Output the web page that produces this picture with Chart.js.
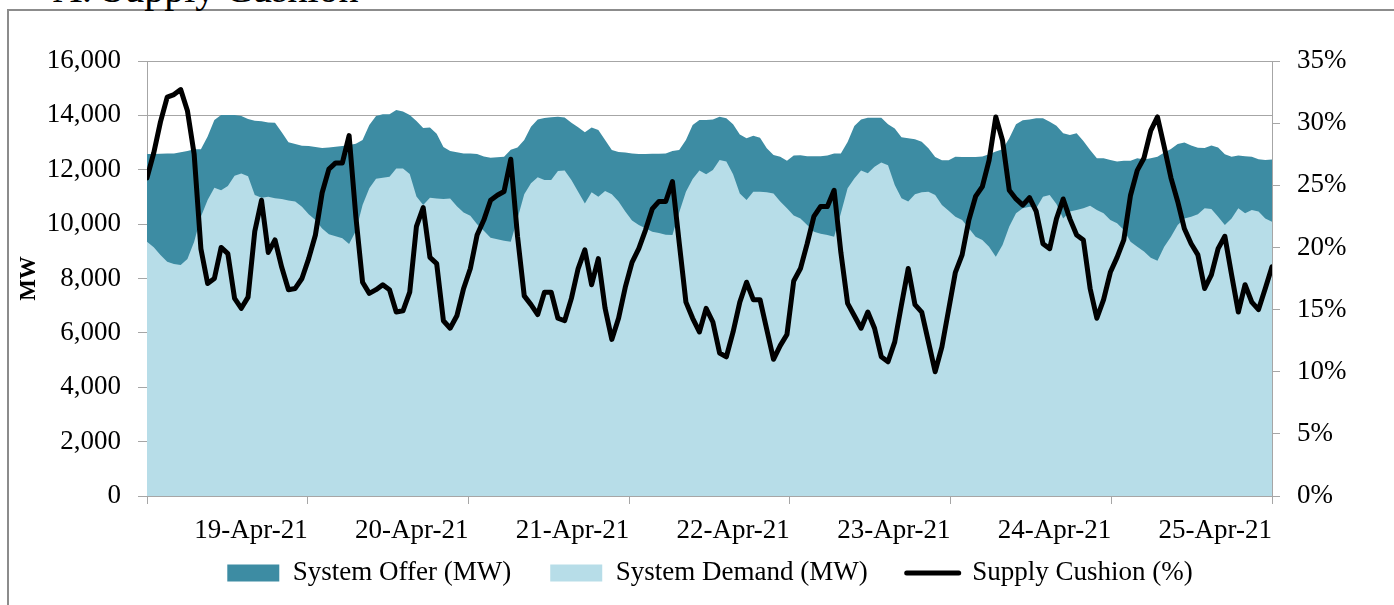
<!DOCTYPE html>
<html>
<head>
<meta charset="utf-8">
<script src="https://cdn.jsdelivr.net/npm/chart.js@4.4.1/dist/chart.umd.min.js"></script>
<style>
  html, body { margin: 0; padding: 0; background: #fff; overflow: hidden; }
  #frame { position: absolute; left: 7px; top: 9px; width: 1400px; height: 610px;
           border-left: 2px solid #8c8c8c; border-top: 2px solid #8c8c8c; }
  #title { position: absolute; left: 53px; top: -31px; font: 40px 'Liberation Serif', serif;
           line-height: 40px; color: #000; white-space: nowrap; }
  #wrap { position: absolute; left: 0; top: 0; width: 1394px; height: 605px; }
</style>
</head>
<body>
<div id="frame"></div>
<div id="title">A. Supply Cushion</div>
<div id="wrap"><canvas id="cushionChart"></canvas></div>
<script>
// hourly values, 18-Apr-21 00:00 .. 24-Apr-21 23:00
const dayLabels = ['', '19-Apr-21', '20-Apr-21', '21-Apr-21', '22-Apr-21', '23-Apr-21', '24-Apr-21', '25-Apr-21'];

const systemOffer = [
    12580,12580,12590,12600,12600,12640,12690,12750,12750,13220,13830,14010,14010,14010,13980,13870,13800,13780,13740,13730,13380,13010,12950,12880,
    12870,12840,12800,12820,12850,12870,12910,12960,13090,13650,13980,14040,14040,14200,14140,14010,13790,13540,13550,13320,12840,12690,12640,12600,
    12600,12580,12490,12440,12460,12480,12740,12820,13090,13580,13850,13900,13930,13950,13920,13730,13560,13380,13550,13460,13090,12730,12650,12630,
    12600,12580,12580,12590,12590,12600,12690,12730,13090,13650,13830,13830,13850,13950,13890,13670,13300,13160,13250,13180,12790,12540,12480,12330,
    12520,12530,12500,12500,12500,12520,12600,12600,13020,13610,13850,13910,13910,13910,13670,13520,13200,13160,13120,13030,12790,12470,12350,12350,
    12480,12470,12470,12470,12490,12570,12670,12750,13160,13670,13820,13850,13890,13890,13770,13620,13340,13280,13340,13060,12730,12420,12420,12360,
    12300,12330,12330,12420,12380,12420,12480,12630,12760,12950,13000,12890,12810,12800,12890,12820,12570,12480,12520,12500,12480,12390,12360,12380
];

const systemDemand = [
    9350,9150,8860,8620,8530,8500,8720,9350,10270,10890,11340,11250,11400,11780,11860,11760,11070,10970,11010,10950,10920,10870,10830,10640,
    10360,10150,9840,9630,9550,9480,9270,9750,10700,11320,11670,11710,11740,12050,12050,11840,11020,10700,10970,10940,10920,10940,10660,10430,
    10310,10000,9760,9500,9440,9390,9350,10210,11100,11500,11720,11620,11620,11950,11970,11620,11190,10760,11170,11010,11220,11100,10830,10460,
    10130,9970,9850,9720,9670,9610,9600,10430,11190,11660,11970,11830,11990,12360,12300,11830,11130,10890,11190,11190,11170,11130,10830,10580,
    10320,10210,9970,9720,9650,9600,9540,10400,11320,11680,11970,11870,12110,12270,12170,11440,10950,10830,11100,11170,11190,11070,10700,10490,
    10270,10150,9850,9540,9420,9170,8800,9230,9910,10400,10580,10640,10580,11010,11070,10740,10210,10460,10520,10580,10680,10520,10400,10150,
    10030,9780,9350,9170,8990,8760,8650,9170,9540,9970,10210,10270,10360,10580,10560,10270,9970,10210,10580,10400,10520,10460,10210,10090
];

const supplyCushion = [
    25.6,27.6,30.1,32.1,32.3,32.7,31.0,27.5,19.9,17.1,17.5,20.0,19.5,15.9,15.1,16.0,21.3,23.8,19.6,20.6,18.4,16.6,16.7,17.5,
    19.1,21.0,24.4,26.3,26.8,26.8,29.0,22.5,17.2,16.3,16.6,17.0,16.6,14.8,14.9,16.4,21.7,23.2,19.2,18.7,14.1,13.5,14.5,16.7,
    18.3,21.0,22.2,23.8,24.2,24.5,27.1,20.9,16.1,15.4,14.6,16.4,16.4,14.3,14.1,15.9,18.3,19.8,17.0,19.1,15.1,12.6,14.3,16.8,
    18.8,19.9,21.4,23.1,23.7,23.7,25.3,20.4,15.6,14.3,13.2,15.1,14.0,11.5,11.2,13.2,15.6,17.2,15.8,15.8,13.4,11.0,12.1,13.0,
    17.3,18.3,20.3,22.5,23.3,23.3,24.6,19.6,15.5,14.5,13.5,14.8,13.5,11.2,10.8,12.4,15.4,18.3,15.4,14.8,12.4,10.0,12.0,15.0,
    18.0,19.4,22.2,24.1,24.9,27.0,30.5,28.6,24.6,23.9,23.4,24.0,22.9,20.3,19.9,22.3,23.9,22.3,21.0,20.6,16.7,14.3,15.8,18.0,
    19.2,20.6,24.2,26.2,27.2,29.4,30.5,28.1,25.6,23.7,21.5,20.3,19.4,16.7,17.8,19.9,20.9,17.8,14.8,17.0,15.6,15.0,16.7,18.45
];

const hours = systemOffer.map((v, i) => i);

let cushionChart = null;

document.addEventListener('DOMContentLoaded', () => {
    drawChart();
});

// the x axis is kept short so the legend sits close under it;
// widen its box after layout so the day labels are not clipped
const unclipDayLabels = {
    id: 'unclipDayLabels',
    afterLayout(chart) {
        const x = chart.scales.x;
        x.bottom = x.top + 60;
    }
};

function drawChart() {
    const ctx = document.getElementById('cushionChart').getContext('2d');

    const serif = "'Liberation Serif', 'Times New Roman', serif";
    const axisGray = '#a6a6a6';
    const offerColor = '#3d8ca3';
    const demandColor = '#b7dde8';
    const lastHour = hours.length - 1;

    cushionChart = new Chart(ctx, {
        type: 'line',
        data: {
            labels: hours,
            datasets: [
                {
                    label: 'System Offer (MW)',
                    data: systemOffer,
                    yAxisID: 'y',
                    backgroundColor: offerColor,
                    borderColor: offerColor,
                    borderWidth: 0,
                    pointRadius: 0,
                    fill: 'origin',
                    order: 3
                },
                {
                    label: 'System Demand (MW)',
                    data: systemDemand,
                    yAxisID: 'y',
                    backgroundColor: demandColor,
                    borderColor: demandColor,
                    borderWidth: 0,
                    pointRadius: 0,
                    fill: 'origin',
                    order: 2
                },
                {
                    label: 'Supply Cushion (%)',
                    data: supplyCushion,
                    yAxisID: 'y1',
                    backgroundColor: '#000',
                    borderColor: '#000',
                    borderWidth: 5,
                    borderJoinStyle: 'round',
                    borderCapStyle: 'round',
                    pointRadius: 0,
                    fill: false,
                    order: 1
                }
            ]
        },
        plugins: [unclipDayLabels],
        options: {
            responsive: true,
            maintainAspectRatio: false,
            animation: false,
            layout: { padding: { left: 26, right: 0, top: 61, bottom: 8.5 } },
            plugins: {
                tooltip: { enabled: false },
                legend: {
                    position: 'bottom',
                    labels: {
                        usePointStyle: true,
                        pointStyleWidth: 52,
                        boxWidth: 52,
                        boxHeight: 17,
                        padding: 39,
                        color: '#000',
                        font: { family: serif, size: 27 },
                        generateLabels: (chart) => chart.data.datasets.map((ds, i) => ({
                            text: ds.label,
                            fillStyle: ds.backgroundColor,
                            strokeStyle: ds.borderColor,
                            lineWidth: i === 2 ? 5 : 0,
                            lineCap: 'round',
                            pointStyle: i === 2 ? 'line' : 'rect',
                            fontColor: '#000',
                            hidden: false,
                            datasetIndex: i
                        }))
                    }
                }
            },
            scales: {
                x: {
                    type: 'linear',
                    min: 0,
                    max: lastHour,
                    offset: false,
                    afterBuildTicks: (scale) => {
                        scale.ticks = dayLabels.map((d, k) => ({ value: k * lastHour / (dayLabels.length - 1) }));
                    },
                    afterFit: (scale) => { scale.height = 24.5; },
                    ticks: {
                        autoSkip: false,
                        maxRotation: 0,
                        align: 'end',
                        padding: 11,
                        color: '#000',
                        font: { family: serif, size: 27 },
                        callback: (value, index) => dayLabels[index]
                    },
                    grid: { drawOnChartArea: false, tickLength: 8, color: axisGray },
                    border: { color: axisGray }
                },
                y: {
                    position: 'left',
                    min: 0,
                    max: 16000,
                    afterFit: (scale) => { scale.width = 121; },
                    ticks: {
                        stepSize: 2000,
                        padding: 17,
                        color: '#000',
                        font: { family: serif, size: 27 },
                        callback: (value) => value.toLocaleString('en-US')
                    },
                    grid: { color: axisGray, tickLength: 9 },
                    border: { color: axisGray },
                    title: {
                        display: true,
                        text: 'MW',
                        color: '#000',
                        font: { family: serif, size: 23, weight: 'bold' },
                        padding: { top: -11, bottom: 0 }
                    }
                },
                y1: {
                    position: 'right',
                    min: 0,
                    max: 35,
                    afterFit: (scale) => { scale.width = 122; },
                    ticks: {
                        stepSize: 5,
                        padding: 17,
                        color: '#000',
                        font: { family: serif, size: 27 },
                        callback: (value) => value + '%'
                    },
                    grid: { drawOnChartArea: false, tickLength: 8, color: axisGray },
                    border: { color: axisGray }
                }
            }
        }
    });
}
</script>
</body>
</html>
